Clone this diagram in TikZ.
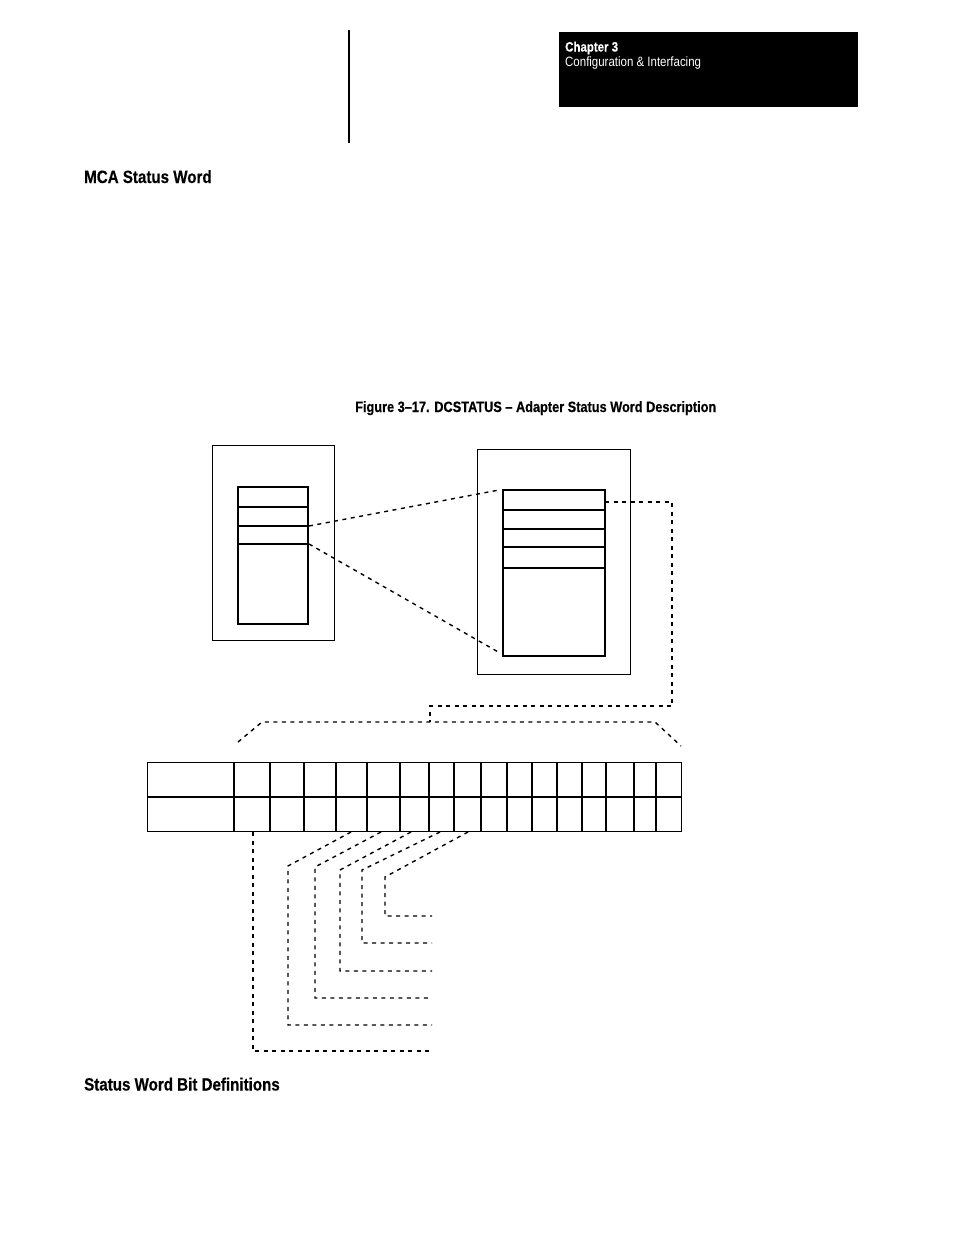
\documentclass[tikz,border=0pt]{standalone}
\usepackage{fontspec}
\newfontfamily\narrow[FakeStretch=0.85, BoldFeatures={FakeBold=0.4}]{Liberation Sans}
\begin{document}
\begin{tikzpicture}[x=1pt,y=-1pt,
  outerbox/.style={draw, line width=1.2pt, inner sep=0pt, anchor=north west},
  innerbox/.style={draw, line width=1.6pt, inner sep=0pt, anchor=north west},
  sepline/.style={line width=1.6pt},
  cellline/.style={line width=1.3pt},
  dashline/.style={dash pattern=on 4pt off 4.5pt, line width=1.4pt},
  headtxt/.style={anchor=base west, inner sep=0pt, font=\narrow\bfseries\fontsize{17.8}{20}\selectfont},
  captxt/.style={anchor=base west, inner sep=0pt, font=\narrow\bfseries\fontsize{15}{18}\selectfont},
  hdrbold/.style={anchor=base west, inner sep=0pt, text=white, font=\narrow\bfseries\fontsize{13.5}{16}\selectfont},
  hdrreg/.style={anchor=base west, inner sep=0pt, text=white, font=\narrow\fontsize{13.5}{16}\selectfont}]
\useasboundingbox (0,0) rectangle (954,1235);
\fill[white] (0,0) rectangle (954,1235);

% header
\node[fill=black, inner sep=0pt, anchor=north west, minimum width=299pt, minimum height=75pt] (hdr) at (559,32) {};
\node[hdrbold] (chap) at (565,51.5) {Chapter 3};
\node[hdrreg] (conf) at (565,66.5) {Configuration \& Interfacing};
\coordinate (vtop) at (349,30);
\coordinate (vbot) at (349,143);
\draw[line width=2pt] (vtop) -- (vbot);

% headings
\node[headtxt] (h1) at (84,183) {MCA Status Word};
\node[captxt] (cap) at (355,412) {Figure 3–17. DCSTATUS – Adapter Status Word Description};
\node[headtxt] (h2) at (84,1090.5) {Status Word Bit Definitions};

% left box
\node[outerbox, minimum width=122pt, minimum height=195pt] (lout) at (212,445) {};
\node[innerbox, minimum width=70pt, minimum height=137pt] (lin) at (237,486) {};
\foreach \yy in {507,526,544} \draw[sepline] (237,\yy) -- (307,\yy);

% right box
\node[outerbox, minimum width=153pt, minimum height=225pt] (rout) at (477,449) {};
\node[innerbox, minimum width=102pt, minimum height=166pt] (rin) at (502,489) {};
\foreach \yy in {510,529,547,568} \draw[sepline] (502,\yy) -- (604,\yy);

% zoom lines between boxes
\coordinate (la) at (309,526);
\coordinate (lb) at (309,544);
\coordinate (ra) at (499,490);
\coordinate (rb) at (500,653);
\draw[dashline] (la) -- (ra);
\draw[dashline] (lb) -- (rb);

% table
\node[draw, line width=1.3pt, inner sep=0pt, anchor=north west, minimum width=534pt, minimum height=69pt] (tbl) at (147,762) {};
\draw[cellline] (147,797) -- (681,797);
\foreach \xx in {234,270,304,336,367,400,429,454,481,507,532,557,582,606,634,656}
  \draw[cellline] (\xx,762) -- (\xx,831);

% dashed lead from right inner box to table bracket
\coordinate (d0) at (605,502);
\coordinate (d1) at (672,502);
\coordinate (d2) at (672,706);
\coordinate (d3) at (430,706);
\coordinate (d4) at (430,722);
\draw[dashline] (d0) -- (d1) -- (d2) -- (d3) -- (d4);
\coordinate (b0) at (238,742);
\coordinate (b1) at (262,722);
\coordinate (b2) at (655,722);
\coordinate (b3) at (681,746);
\draw[dashline] (b0) -- (b1) -- (b2) -- (b3);

% bit leaders
\coordinate (s0) at (253,832);
\coordinate (e0) at (432,1051);
\draw[dashline] (s0) -- (253,1051) -- (e0);
\foreach \sx/\cx/\cy/\ey [count=\i] in {351/288/866/1025, 381/315/867/998, 411/340/870/971, 440/362/870/943, 468/385/877/916}{
  \coordinate (s\i) at (\sx,832);
  \coordinate (c\i) at (\cx,\cy);
  \coordinate (e\i) at (432,\ey);
  \draw[dashline] (s\i) -- (c\i) -- (\cx,\ey) -- (e\i);
}
\end{tikzpicture}
\end{document}
